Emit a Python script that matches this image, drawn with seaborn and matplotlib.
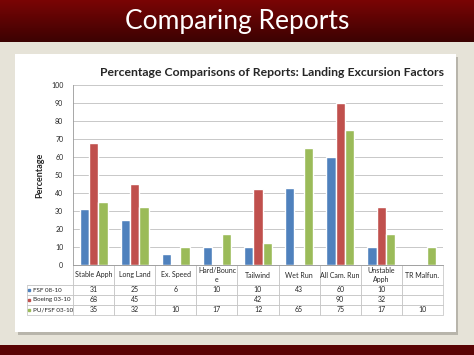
import numpy as np
import pandas as pd
import seaborn as sns
import matplotlib.pyplot as plt
from matplotlib.colors import LinearSegmentedColormap
from matplotlib.patches import Rectangle

categories = ['Stable Apph', 'Long Land', 'Ex. Speed', 'Hard/Bounce', 'Tailwind',
              'Wet Run', 'All Cam. Run', 'Unstable Apph', 'TR Malfun.']
col_labels = ['Stable Apph', 'Long Land', 'Ex. Speed', 'Hard/Bounc\ne', 'Tailwind',
              'Wet Run', 'All Cam. Run', 'Unstable\nApph', 'TR Malfun.']
series = ['FSF 08-10', 'Boeing 03-10', 'PU/FSF 03-10']
fsf = [31, 25, 6, 10, 10, 43, 60, 10, np.nan]
boeing = [68, 45, np.nan, np.nan, 42, np.nan, 90, 32, np.nan]
pufsf = [35, 32, 10, 17, 12, 65, 75, 17, 10]
colors = ['#4F81BD', '#C0504D', '#9BBB59']

df = pd.DataFrame({
    'category': categories * 3,
    'series': [s for s in series for _ in categories],
    'value': fsf + boeing + pufsf,
})

sns.set_style('white')
plt.rcParams['font.family'] = ['Lato', 'DejaVu Sans']

fig = plt.figure(figsize=(4.74, 3.55), dpi=100)
fig.patch.set_facecolor('#e6e3d8')

# header band with gradient
hax = fig.add_axes([0, 1 - 42 / 355, 1, 42 / 355])
grad = np.linspace(0, 1, 50).reshape(-1, 1)
hax.imshow(grad, aspect='auto', cmap=LinearSegmentedColormap.from_list(
    'hd', ['#7a0505', '#3c0202']), extent=[0, 1, 0, 1], origin='upper')
hax.axis('off')
fig.text(0.5, 1 - 22 / 355, 'Comparing Reports', color='white', fontsize=19,
         ha='center', va='center')

# bottom band
fig.patches.append(Rectangle((0, 0), 1, 10 / 355, transform=fig.transFigure,
                             facecolor='#5a0404', edgecolor='none', zorder=-3))
# white card with shadow
fig.patches.append(Rectangle((18 / 474, 1 - 335 / 355), 440 / 474, 278 / 355,
                             transform=fig.transFigure, facecolor='#b8b5ab',
                             edgecolor='none', zorder=-2))
fig.patches.append(Rectangle((15 / 474, 1 - 332 / 355), 441 / 474, 278 / 355,
                             transform=fig.transFigure, facecolor='white',
                             edgecolor='none', zorder=-1))

ax = fig.add_axes([73 / 474, 1 - 265 / 355, 370 / 474, 180 / 355])
sns.barplot(data=df, x='category', y='value', hue='series', order=categories,
            hue_order=series, palette=colors, width=0.68, saturation=1, ax=ax,
            legend=False)
ax.set_xlim(-0.5, len(categories) - 0.5)
ax.set_ylim(0, 100)
ax.set_yticks(range(0, 101, 10))
ax.tick_params(axis='y', labelsize=5, length=2, width=0.5, color='#999999', pad=5)
ax.set_xticks([])
ax.set_xlabel('')
ax.set_ylabel('Percentage', fontsize=6.5, fontweight='bold', labelpad=5)
ax.grid(axis='y', color='#c8c8c8', linewidth=0.7)
ax.set_axisbelow(True)
for s in ['top', 'right']:
    ax.spines[s].set_visible(False)
ax.spines['left'].set_color('#999999')
ax.spines['bottom'].set_color('#999999')
ax.spines['left'].set_linewidth(0.6)
ax.spines['bottom'].set_linewidth(0.6)

fig.text(272 / 474, 1 - 73 / 355,
         'Percentage Comparisons of Reports: Landing Excursion Factors',
         fontsize=8.8, fontweight='bold', ha='center', va='center')

# data table
def fmt(v):
    return '' if np.isnan(v) else str(int(v))

cell_text = [[''] + col_labels]
for name, vals in zip(series, [fsf, boeing, pufsf]):
    cell_text.append([name] + [fmt(v) for v in vals])

first_w = 46 / 370
tbl = ax.table(cellText=cell_text, colWidths=[first_w] + [1 / 9] * 9,
               bbox=[-first_w, -50 / 180, 1 + first_w, 50 / 180],
               cellLoc='center')
tbl.auto_set_font_size(False)
tbl.set_fontsize(5)
for (r, c), cell in tbl.get_celld().items():
    cell.set_edgecolor('#bfbfbf')
    cell.set_linewidth(0.5)
    cell.PAD = 0.02
    cell.set_height(2.0 if r == 0 else 1.0)
    if c == 0 and r > 0:
        cell._loc = 'left'
        cell.get_text().set_ha('left')
        cell.get_text().set_fontsize(4.5)
        cell.PAD = 0.12
tbl[0, 0].visible_edges = 'BR'

for i, col in enumerate(colors):
    ax.plot(-first_w + 0.006, -(20 + 5 + 10 * i) / 180, marker='s', color=col,
            markersize=2.0, transform=ax.transAxes, clip_on=False)

fig.savefig('out.png', dpi=100)
